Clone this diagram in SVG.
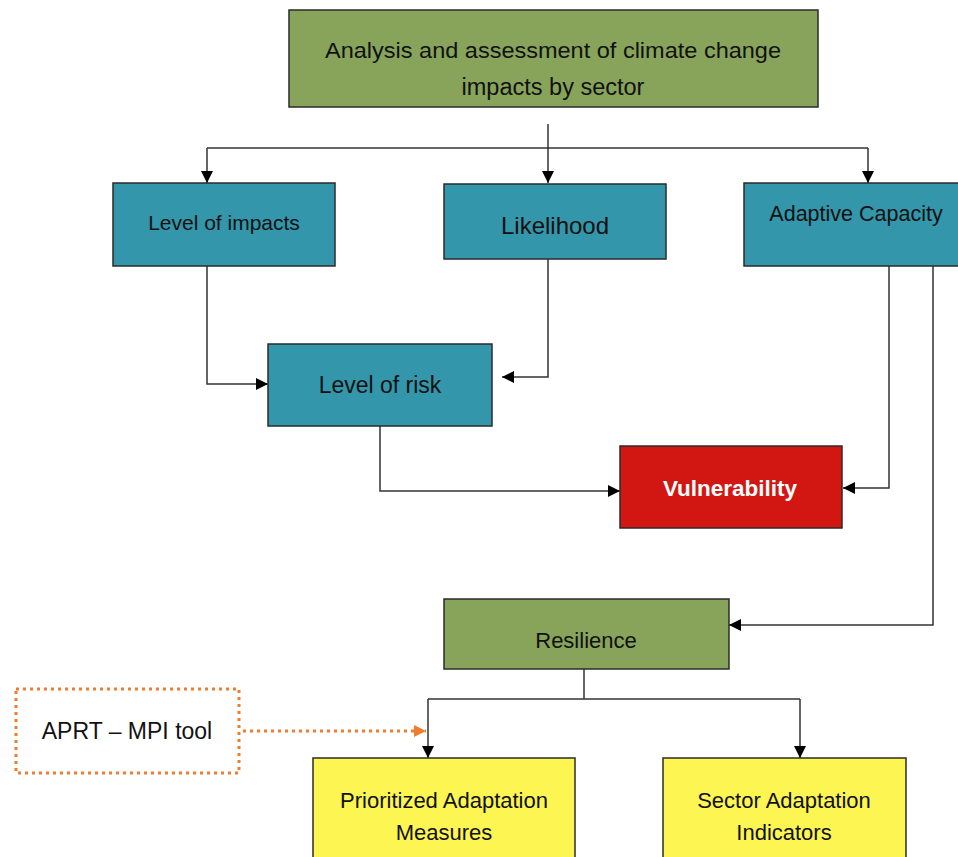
<svg xmlns="http://www.w3.org/2000/svg" width="958" height="857" viewBox="0 0 958 857">
<style>
.box{stroke:#2b2b2b;stroke-width:1.5}
.green{fill:#87a45a}
.teal{fill:#3396ab}
.red{fill:#d21612}
.yellow{fill:#fdf652}
.t{font-family:"Liberation Sans",Arial,sans-serif;font-size:22px;fill:#111;text-anchor:middle;dominant-baseline:central}
.w{fill:#fff;font-weight:bold}
.c{fill:none;stroke:#333;stroke-width:1.5}
.d{fill:none;stroke:#ed7d31;stroke-width:3;stroke-dasharray:3 4}
</style>
<defs>
<marker id="a" viewBox="0 0 10 10" refX="10" refY="5" markerWidth="12" markerHeight="12" markerUnits="userSpaceOnUse" orient="auto"><path d="M0,0 L10,5 L0,10 Z" fill="#000"/></marker>
<marker id="o" viewBox="0 0 10 10" refX="10" refY="5" markerWidth="12" markerHeight="12" markerUnits="userSpaceOnUse" orient="auto"><path d="M0,0 L10,5 L0,10 Z" fill="#ed7d31"/></marker>
</defs>
<g id="connectors">
<path class="c" d="M548,124 V183" marker-end="url(#a)"/>
<path class="c" d="M207,148 H868"/>
<path class="c" d="M207,148 V183" marker-end="url(#a)"/>
<path class="c" d="M868,148 V183" marker-end="url(#a)"/>
<path class="c" d="M207,266 V384 H268" marker-end="url(#a)"/>
<path class="c" d="M548,259 V377 H502" marker-end="url(#a)"/>
<path class="c" d="M380,426 V491 H620" marker-end="url(#a)"/>
<path class="c" d="M889,266 V488 H843" marker-end="url(#a)"/>
<path class="c" d="M933,266 V625 H729" marker-end="url(#a)"/>
<path class="c" d="M584,669 V699"/>
<path class="c" d="M428,699 H800"/>
<path class="c" d="M428,699 V758" marker-end="url(#a)"/>
<path class="c" d="M800,699 V758" marker-end="url(#a)"/>
<path class="d" d="M243,731 H426" marker-end="url(#o)"/>
</g>
<g id="analysis"><rect class="box green" x="289" y="10" width="529" height="97"/><text class="t" x="553" y="50" textLength="456" lengthAdjust="spacingAndGlyphs">Analysis and assessment of climate change</text><text class="t" x="553" y="87" style="font-size:23.5px">impacts by sector</text></g>
<g id="impacts"><rect class="box teal" x="113" y="183" width="222" height="83"/><text class="t" x="224" y="222" style="font-size:21px">Level of impacts</text></g>
<g id="likelihood"><rect class="box teal" x="444" y="184" width="222" height="75"/><text class="t" x="555" y="225" style="font-size:24px">Likelihood</text></g>
<g id="adaptive"><rect class="box teal" x="744" y="183" width="222" height="83"/><text class="t" x="856" y="214" style="font-size:21.5px">Adaptive Capacity</text></g>
<g id="risk"><rect class="box teal" x="268" y="344" width="224" height="82"/><text class="t" x="380" y="385" style="font-size:23px">Level of risk</text></g>
<g id="vulnerability"><rect class="box red" x="620" y="446" width="222" height="82"/><text class="t w" x="730" y="488" style="font-size:22.5px">Vulnerability</text></g>
<g id="resilience"><rect class="box green" x="444" y="599" width="285" height="70"/><text class="t" x="586" y="640">Resilience</text></g>
<g id="aprt"><rect x="16" y="689" width="223" height="84" fill="none" stroke="#ed7d31" stroke-width="3" stroke-dasharray="3 4"/><text class="t" x="127" y="731" style="font-size:23px">APRT – MPI tool</text></g>
<g id="prioritized"><rect class="box yellow" x="313" y="758" width="262" height="110"/><text class="t" x="444" y="800">Prioritized Adaptation</text><text class="t" x="444" y="832">Measures</text></g>
<g id="sector"><rect class="box yellow" x="663" y="758" width="243" height="110"/><text class="t" x="784" y="800">Sector Adaptation</text><text class="t" x="784" y="832">Indicators</text></g>
</svg>
